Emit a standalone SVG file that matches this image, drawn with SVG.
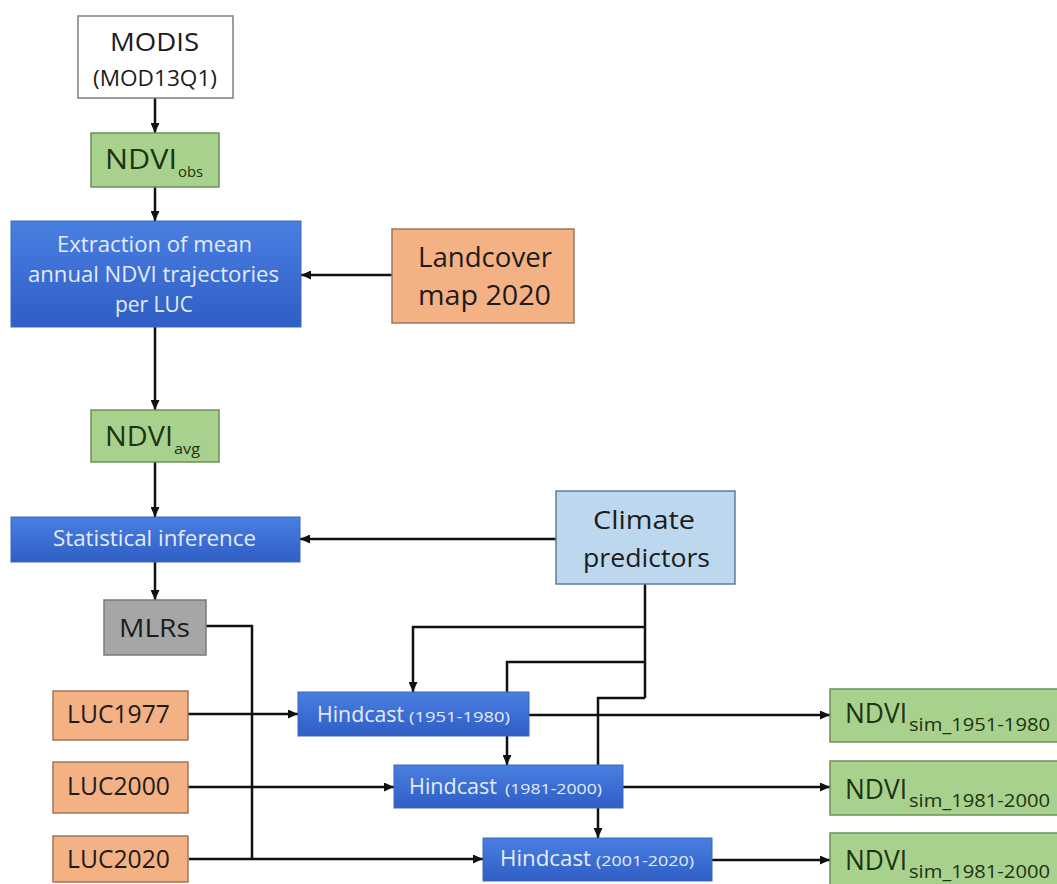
<svg xmlns="http://www.w3.org/2000/svg" width="1057" height="884" viewBox="0 0 1057 884">
<defs>
<linearGradient id="blueG" x1="0" y1="0" x2="0" y2="1">
<stop offset="0" stop-color="#4a7fe2"/>
<stop offset="1" stop-color="#2f5ec4"/>
</linearGradient>
<marker id="arr" markerUnits="userSpaceOnUse" markerWidth="10" markerHeight="9" refX="10" refY="4.5" orient="auto">
<path d="M0,0 L10,4.5 L0,9 z" fill="#111"/>
</marker>
<style>
.t{font-family:"Open Sans","Liberation Sans",sans-serif;}
.dk{fill:#1c1c1c;}
.gt{fill:#1d3312;}
.wt{fill:#e3ecfc;}
.white{fill:#ffffff;stroke:#7f7f7f;stroke-width:1.5;}
.green{fill:#a9d18e;stroke:#6f8f5a;stroke-width:1.5;}
.orange{fill:#f4b183;stroke:#9a7660;stroke-width:1.5;}
.gray{fill:#a6a6a6;stroke:#7a7a7a;stroke-width:1.5;}
.lblue{fill:#bdd7ee;stroke:#5f7d99;stroke-width:1.5;}
.blue{fill:url(#blueG);stroke:#3a66c0;stroke-width:1;}
.c{fill:none;stroke:#111;stroke-width:2.5;}
.ca{fill:none;stroke:#111;stroke-width:2.5;marker-end:url(#arr);}
</style>
</defs>
<rect width="1057" height="884" fill="#ffffff"/>

<g id="connectors">
<path class="ca" d="M155,98 V133"/>
<path class="ca" d="M155,187 V221"/>
<path class="ca" d="M392,275 H301"/>
<path class="ca" d="M155,327 V410"/>
<path class="ca" d="M155,462 V517"/>
<path class="ca" d="M556,539 H300"/>
<path class="ca" d="M155,562 V600"/>
<path class="c" d="M206,626 H252 V859"/>
<path class="ca" d="M188,714 H298"/>
<path class="ca" d="M188,787 H394"/>
<path class="ca" d="M189,859 H483"/>
<path class="ca" d="M529,715 H830"/>
<path class="ca" d="M623,787 H830"/>
<path class="ca" d="M712,860 H830"/>
<path class="c" d="M645,584 V698"/>
<path class="ca" d="M645,627 H413 V692"/>
<path class="ca" d="M645,662 H507 V765"/>
<path class="ca" d="M645,698 H598 V838"/>
</g>

<g id="modis">
<rect class="white" x="78" y="16" width="155" height="82"/>
<text class="t dk" x="110" y="51" font-size="25" textLength="89" lengthAdjust="spacingAndGlyphs">MODIS</text>
<text class="t dk" x="93" y="86" font-size="21" textLength="124" lengthAdjust="spacingAndGlyphs">(MOD13Q1)</text>
</g>

<g id="ndvi-obs">
<rect class="green" x="91" y="133" width="128" height="54"/>
<text class="t gt" x="105" y="169" font-size="27" textLength="72" lengthAdjust="spacingAndGlyphs">NDVI</text>
<text class="t gt" x="178" y="177" font-size="15" textLength="25" lengthAdjust="spacingAndGlyphs">obs</text>
</g>

<g id="extraction">
<rect class="blue" x="11" y="221" width="290" height="106"/>
<text class="t wt" x="57" y="252" font-size="22" textLength="195" lengthAdjust="spacingAndGlyphs">Extraction of mean</text>
<text class="t wt" x="28" y="282" font-size="22" textLength="251" lengthAdjust="spacingAndGlyphs">annual NDVI trajectories</text>
<text class="t wt" x="115" y="312" font-size="22" textLength="78" lengthAdjust="spacingAndGlyphs">per LUC</text>
</g>

<g id="landcover">
<rect class="orange" x="392" y="229" width="182" height="94"/>
<text class="t dk" x="418" y="267" font-size="28" textLength="134" lengthAdjust="spacingAndGlyphs">Landcover</text>
<text class="t dk" x="418" y="305" font-size="28" textLength="133" lengthAdjust="spacingAndGlyphs">map 2020</text>
</g>

<g id="ndvi-avg">
<rect class="green" x="91" y="410" width="128" height="52"/>
<text class="t gt" x="105" y="446" font-size="27" textLength="68" lengthAdjust="spacingAndGlyphs">NDVI</text>
<text class="t gt" x="174" y="454" font-size="15" textLength="26" lengthAdjust="spacingAndGlyphs">avg</text>
</g>

<g id="statistical">
<rect class="blue" x="11" y="517" width="289" height="45"/>
<text class="t wt" x="53" y="546" font-size="22" textLength="203" lengthAdjust="spacingAndGlyphs">Statistical inference</text>
</g>

<g id="climate">
<rect class="lblue" x="556" y="491" width="179" height="93"/>
<text class="t dk" x="593" y="529" font-size="25" textLength="102" lengthAdjust="spacingAndGlyphs">Climate</text>
<text class="t dk" x="583" y="567" font-size="25" textLength="127" lengthAdjust="spacingAndGlyphs">predictors</text>
</g>

<g id="mlrs">
<rect class="gray" x="104" y="600" width="102" height="55"/>
<text class="t dk" x="119" y="637" font-size="25" textLength="71" lengthAdjust="spacingAndGlyphs">MLRs</text>
</g>

<g id="luc1977">
<rect class="orange" x="53" y="691" width="135" height="49"/>
<text class="t dk" x="67" y="723" font-size="25" textLength="103" lengthAdjust="spacingAndGlyphs">LUC1977</text>
</g>

<g id="luc2000">
<rect class="orange" x="53" y="762" width="135" height="51"/>
<text class="t dk" x="67" y="795" font-size="25" textLength="103" lengthAdjust="spacingAndGlyphs">LUC2000</text>
</g>

<g id="luc2020">
<rect class="orange" x="53" y="836" width="135" height="46"/>
<text class="t dk" x="67" y="868" font-size="25" textLength="103" lengthAdjust="spacingAndGlyphs">LUC2020</text>
</g>

<g id="hindcast1">
<rect class="blue" x="298" y="692" width="231" height="44"/>
<text class="t wt" x="317" y="722" font-size="21" textLength="87" lengthAdjust="spacingAndGlyphs">Hindcast</text>
<text class="t wt" x="409" y="722" font-size="15" textLength="101" lengthAdjust="spacingAndGlyphs">(1951-1980)</text>
</g>

<g id="hindcast2">
<rect class="blue" x="394" y="765" width="229" height="43"/>
<text class="t wt" x="409" y="794" font-size="21" textLength="88" lengthAdjust="spacingAndGlyphs">Hindcast</text>
<text class="t wt" x="505" y="794" font-size="15" textLength="97" lengthAdjust="spacingAndGlyphs">(1981-2000)</text>
</g>

<g id="hindcast3">
<rect class="blue" x="483" y="838" width="229" height="43"/>
<text class="t wt" x="500" y="866" font-size="21" textLength="91" lengthAdjust="spacingAndGlyphs">Hindcast</text>
<text class="t wt" x="596" y="866" font-size="15" textLength="98" lengthAdjust="spacingAndGlyphs">(2001-2020)</text>
</g>

<g id="ndvi-sim1">
<rect class="green" x="830" y="689" width="230" height="53"/>
<text class="t gt" x="845" y="723" font-size="27" textLength="62" lengthAdjust="spacingAndGlyphs">NDVI</text>
<text class="t gt" x="909" y="731" font-size="18" textLength="141" lengthAdjust="spacingAndGlyphs">sim_1951-1980</text>
</g>

<g id="ndvi-sim2">
<rect class="green" x="830" y="761" width="230" height="54"/>
<text class="t gt" x="845" y="799" font-size="27" textLength="62" lengthAdjust="spacingAndGlyphs">NDVI</text>
<text class="t gt" x="909" y="807" font-size="18" textLength="141" lengthAdjust="spacingAndGlyphs">sim_1981-2000</text>
</g>

<g id="ndvi-sim3">
<rect class="green" x="830" y="833" width="230" height="55"/>
<text class="t gt" x="845" y="870" font-size="27" textLength="62" lengthAdjust="spacingAndGlyphs">NDVI</text>
<text class="t gt" x="909" y="878" font-size="18" textLength="141" lengthAdjust="spacingAndGlyphs">sim_1981-2000</text>
</g>
</svg>
